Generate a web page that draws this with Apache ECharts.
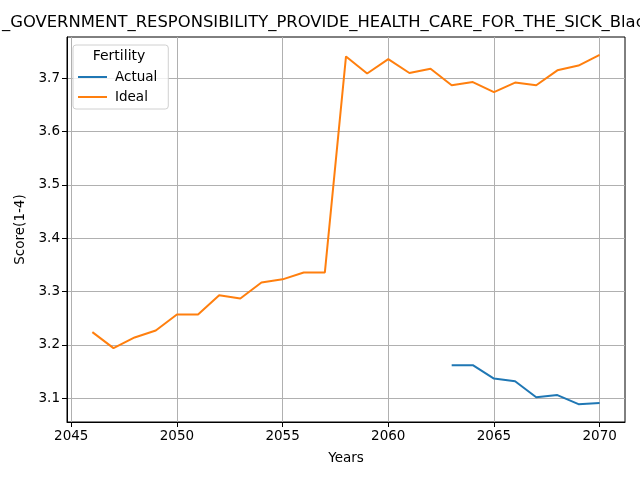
<!DOCTYPE html>
<html>
<head>
<meta charset="utf-8">
<title>Fertility score</title>
<script src="https://cdn.jsdelivr.net/npm/echarts@6/dist/echarts.min.js"></script>
<style>
html,body{margin:0;padding:0;background:#fff;}
#chart{width:640px;height:480px;}
</style>
</head>
<body>
<div id="chart"></div>
<script>

// values
const idealYears = [2046,2047,2048,2049,2050,2051,2052,2053,2054,2055,2056,2057,
  2058,2059,2060,2061,2062,2063,2064,2065,2066,2067,2068,2069,2070]
const idealScore = [3.224,3.194,3.214,3.227,3.257,3.257,3.293,3.287,3.317,3.323,3.336,3.336,
  3.741,3.709,3.736,3.710,3.718,3.687,3.693,3.674,3.692,3.687,3.715,3.724,3.744]

const actualYears = [2063,2064,2065,2066,2067,2068,2069,2070]
const actualScore = [3.162,3.162,3.137,3.132,3.102,3.106,3.089,3.091]

const xTicks = [2045,2050,2055,2060,2065,2070]
const yTicks = [3.1,3.2,3.3,3.4,3.5,3.6,3.7]

const titleText = "_GOVERNMENT_RESPONSIBILITY_PROVIDE_HEALTH_CARE_FOR_THE_SICK_Black"

function pairs(xs, ys){
  return xs.map((x,i)=>[x,ys[i]])
}

const font = "DejaVu Sans"

const chart = echarts.init(document.getElementById("chart"), null, {renderer:"canvas"})

chart.setOption({
  animation:false,
  backgroundColor:"#fff",
  textStyle:{fontFamily:font},
  title:[{
    text:titleText,
    left:2,
    top:15,
    padding:0,
    textStyle:{fontFamily:font,fontSize:16.4,fontWeight:"normal",color:"#000"}
  },{
    text:"Fertility",
    left:119,
    top:49,
    textAlign:"center",
    padding:0,
    textStyle:{fontFamily:font,fontSize:14,fontWeight:"normal",color:"#000"}
  }],
  legend:{
    left:73,
    top:45,
    orient:"vertical",
    padding:[25,11,5,5],
    itemGap:6,
    icon:"rect",
    itemWidth:29,
    itemHeight:2,
    borderColor:"#d0d0d0",
    borderWidth:1,
    borderRadius:3,
    backgroundColor:"rgba(255,255,255,0.8)",
    textStyle:{fontFamily:font,fontSize:13.5,color:"#000",padding:[0,0,0,3]},
    data:["Actual","Ideal"]
  },
  grid:{
    left:67,
    right:15,
    top:37,
    bottom:58,
    show:true,
    borderColor:"#000",
    borderWidth:1,
    containLabel:false
  },
  xAxis:{
    type:"value",
    min:2044.8,
    max:2071.2,
    name:"Years",
    nameLocation:"middle",
    nameGap:29,
    nameTextStyle:{fontFamily:font,fontSize:13.5,color:"#000"},
    axisLine:{show:true,lineStyle:{color:"#000",width:1}},
    axisTick:{show:true,length:5,lineStyle:{color:"#000"},customValues:xTicks},
    axisLabel:{customValues:xTicks,fontFamily:font,fontSize:13.5,color:"#000",margin:7,
      formatter:v=>String(Math.round(v))},
    splitLine:{show:true,lineStyle:{color:"#b0b0b0",width:1}}
  },
  yAxis:{
    type:"value",
    min:3.0555,
    max:3.7775,
    name:"Score(1-4)",
    nameLocation:"middle",
    nameGap:40,
    nameRotate:90,
    nameTextStyle:{fontFamily:font,fontSize:13.5,color:"#000"},
    axisLine:{show:true,lineStyle:{color:"#000",width:1}},
    axisTick:{show:true,length:5,lineStyle:{color:"#000"},customValues:yTicks},
    axisLabel:{customValues:yTicks,fontFamily:font,fontSize:13.5,color:"#000",margin:7,
      formatter:v=>v.toFixed(1)},
    splitLine:{show:true,lineStyle:{color:"#b0b0b0",width:1}}
  },
  series:[{
    name:"Actual",
    type:"line",
    symbol:"none",
    color:"#1f77b4",
    lineStyle:{width:2,color:"#1f77b4"},
    data:pairs(actualYears,actualScore)
  },{
    name:"Ideal",
    type:"line",
    symbol:"none",
    color:"#ff7f0e",
    lineStyle:{width:2,color:"#ff7f0e"},
    data:pairs(idealYears,idealScore)
  }]
})

</script>
</body>
</html>
